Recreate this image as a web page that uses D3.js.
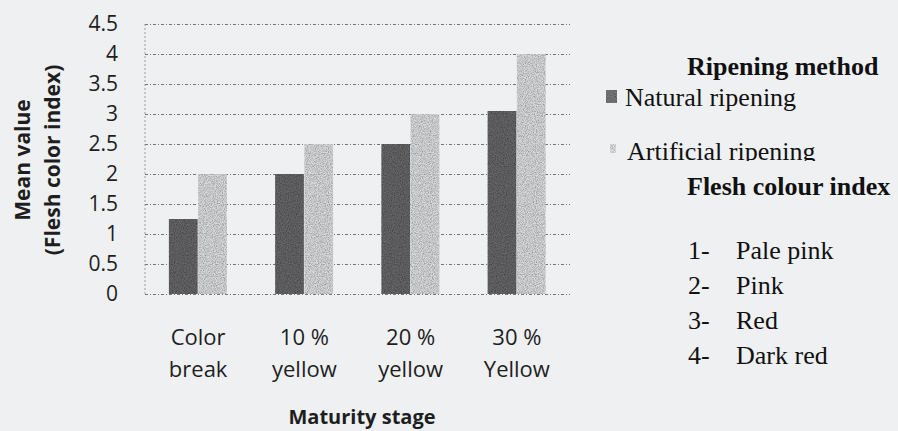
<!DOCTYPE html>
<html>
<head>
<meta charset="utf-8">
<script src="https://cdn.jsdelivr.net/npm/d3@7"></script>
<style>
  body { margin: 0; background: #eef0f2; }
  svg { display: block; }
</style>
</head>
<body>
<svg id="chart"></svg>
<script>
// data
const stages = ["Color break", "10 % yellow", "20 % yellow", "30 % Yellow"];
const stageLines = [["Color", "break"], ["10 %", "yellow"], ["20 %", "yellow"], ["30 %", "Yellow"]];
const methods = ["Natural ripening", "Artificial ripening"];
const natural = [1.25, 2.0, 2.5, 3.05];
const artificial = [2.0, 2.5, 3.0, 4.0];
const yTicks = [0, 0.5, 1, 1.5, 2, 2.5, 3, 3.5, 4, 4.5];
const fleshIndex = [["1-", "Pale pink"], ["2-", "Pink"], ["3-", "Red"], ["4-", "Dark red"]];

const width = 898, height = 431;
const margin = { top: 24, right: 328, bottom: 137, left: 145 };

const svg = d3.select("#chart")
  .attr("width", width)
  .attr("height", height);

// grainy fill like the photocopy
const defs = svg.append("defs");
const f = defs.append("filter").attr("id", "grain")
  .attr("x", 0).attr("y", 0).attr("width", 1).attr("height", 1);
f.append("feTurbulence").attr("type", "fractalNoise")
  .attr("baseFrequency", 0.9).attr("numOctaves", 2).attr("seed", 3).attr("result", "noise");
f.append("feColorMatrix").attr("in", "noise").attr("type", "matrix")
  .attr("values", "0 0 0 0 0  0 0 0 0 0  0 0 0 0 0  0 0 0 -1.1 0.75").attr("result", "dots");
f.append("feComposite").attr("in", "dots").attr("in2", "SourceGraphic").attr("operator", "in").attr("result", "d2");
f.append("feMerge").call(m => {
  m.append("feMergeNode").attr("in", "SourceGraphic");
  m.append("feMergeNode").attr("in", "d2");
});

svg.append("rect").attr("width", width).attr("height", height).attr("fill", "#eef0f2");

const x0 = d3.scaleBand()
  .domain(stages)
  .range([margin.left, width - margin.right])
  .paddingInner(0.45)
  .paddingOuter(0.225);

const x1 = d3.scaleBand()
  .domain(methods)
  .range([0, x0.bandwidth()]);

const y = d3.scaleLinear()
  .domain([0, 4.5])
  .range([height - margin.bottom, margin.top]);

const color = d3.scaleOrdinal()
  .domain(methods)
  .range(["#666668", "#d9dadc"]);

// gridlines
svg.append("g")
  .attr("transform", "translate(" + margin.left + ",0)")
  .call(d3.axisLeft(y).tickValues(yTicks).tickSize(-(width - margin.right - margin.left)).tickFormat(""))
  .call(g => g.select(".domain").remove())
  .call(g => g.selectAll(".tick line")
    .attr("stroke", "#555")
    .attr("stroke-width", 0.8)
    .attr("stroke-dasharray", "3,2,1,2"));

// y axis line
svg.append("line")
  .attr("x1", margin.left).attr("x2", margin.left)
  .attr("y1", y(4.5)).attr("y2", y(0))
  .attr("stroke", "#888").attr("stroke-width", 0.8)
  .attr("stroke-dasharray", "2,2");

// tick labels
svg.append("g")
  .attr("transform", "translate(118,0)")
  .call(d3.axisLeft(y).tickValues(yTicks).tickSize(0).tickPadding(0).tickFormat(d3.format("")))
  .call(g => g.select(".domain").remove())
  .call(g => g.selectAll("text")
    .attr("font-family", "'Open Sans', sans-serif")
    .attr("font-size", 21)
    .attr("fill", "#1e1e1e"));

// bars
const rows = stages.map((s, i) => ({ stage: s, values: [natural[i], artificial[i]] }));

svg.append("g")
  .selectAll("g")
  .data(rows)
  .join("g")
  .attr("transform", d => "translate(" + x0(d.stage) + ",0)")
  .selectAll("rect")
  .data(d => methods.map((m, j) => ({ method: m, value: d.values[j] })))
  .join("rect")
  .attr("x", d => x1(d.method))
  .attr("y", d => y(d.value))
  .attr("width", x1.bandwidth() - 0.5)
  .attr("height", d => y(0) - y(d.value))
  .attr("fill", d => color(d.method))
  .attr("filter", "url(#grain)");

// x labels
const xl = svg.append("g");
stages.forEach((s, i) => {
  const cx = x0(s) + x0.bandwidth() / 2;
  const t = xl.append("text")
    .attr("text-anchor", "middle")
    .attr("font-family", "'Open Sans', sans-serif")
    .attr("font-size", 22)
    .attr("fill", "#1e1e1e");
  stageLines[i].forEach((line, k) => {
    t.append("tspan").attr("x", cx).attr("y", 345 + k * 32).text(line);
  });
});

// axis titles
svg.append("text")
  .attr("x", 362).attr("y", 424)
  .attr("text-anchor", "middle")
  .attr("font-family", "'Open Sans', sans-serif")
  .attr("font-weight", "bold")
  .attr("font-size", 20)
  .attr("fill", "#1e1e1e")
  .text("Maturity stage");

const yt = svg.append("text")
  .attr("transform", "translate(30,160) rotate(-90)")
  .attr("text-anchor", "middle")
  .attr("font-family", "'Open Sans', sans-serif")
  .attr("font-weight", "bold")
  .attr("font-size", 21)
  .attr("fill", "#1e1e1e");
yt.append("tspan").attr("x", 0).attr("y", 0).text("Mean value");
yt.append("tspan").attr("x", 0).attr("y", 30).text("(Flesh color index)");

// legend
const serif = "'Liberation Serif', 'Times New Roman', serif";
const leg = svg.append("g").attr("font-family", serif).attr("fill", "#111");

defs.append("clipPath").attr("id", "legclip")
  .append("rect").attr("x", 590).attr("y", 0).attr("width", 308).attr("height", 161);

leg.append("text").attr("x", 687).attr("y", 75)
  .attr("font-weight", "bold").attr("font-size", 26).text("Ripening method");

const items = leg.append("g").attr("clip-path", "url(#legclip)");
methods.forEach((m, i) => {
  const yy = 106 + i * 54;
  items.append("rect")
    .attr("x", i === 0 ? 606 : 610).attr("y", yy - 16)
    .attr("width", i === 0 ? 11 : 6).attr("height", i === 0 ? 13 : 9)
    .attr("fill", i === 0 ? "#7a7a7c" : "#e4e5e7")
    .attr("filter", "url(#grain)");
  items.append("text").attr("x", i === 0 ? 625 : 627).attr("y", yy)
    .attr("font-size", 26).text(m);
});

leg.append("text").attr("x", 687).attr("y", 195)
  .attr("font-weight", "bold").attr("font-size", 26).text("Flesh colour index");

fleshIndex.forEach((r, i) => {
  const yy = 259 + i * 35;
  leg.append("text").attr("x", 688).attr("y", yy).attr("font-size", 26).text(r[0]);
  leg.append("text").attr("x", 736).attr("y", yy).attr("font-size", 26).text(r[1]);
});
</script>
</body>
</html>
